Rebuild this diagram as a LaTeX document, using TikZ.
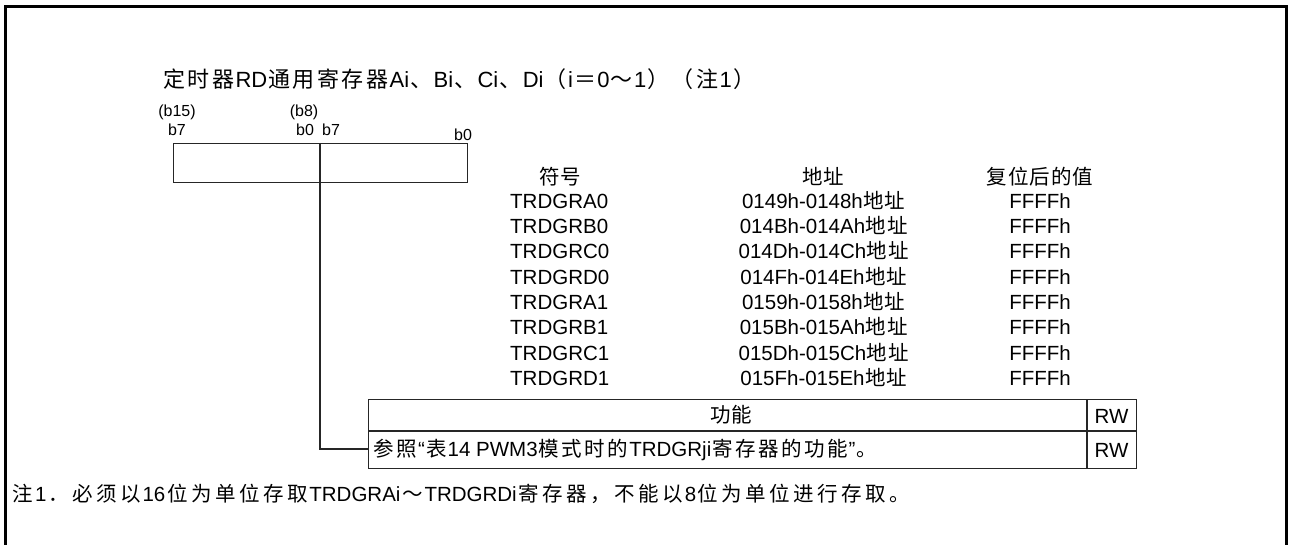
\documentclass[tikz,border=0pt]{standalone}
\usepackage{fontspec}
\setmainfont{Liberation Sans}
\newfontfamily\cjk{Noto Sans CJK SC}
\newlength\zhsp
\setlength\zhsp{1pt}
\def\zh#1{{\cjk\zhloop#1\relax}}
\def\zhloop#1{\ifx#1\relax\else\kern.5\zhsp#1\kern.5\zhsp\expandafter\zhloop\fi}
\begin{document}
\begin{tikzpicture}[x=1pt,y=-1pt,
  txt/.style={inner sep=0pt, font=\fontsize{20.5}{24}\selectfont},
  ttl/.style={inner sep=0pt, font=\fontsize{22}{26}\selectfont\setlength\zhsp{2.45pt}},
  bit/.style={inner sep=0pt, font=\fontsize{16}{18}\selectfont},
  frame/.style={line width=3pt},
  box/.style={line width=1.3pt, draw=black!85}]
\useasboundingbox (0,0) rectangle (1291,545);
% outer frame (open at bottom)
\draw[frame] (5.5,545) -- (5.5,7) -- (1286,7) -- (1286,545);

% title
\node[ttl, anchor=base west] (title) at (162,87.5)
  {\zh{定时器}RD\zh{通用寄存器}Ai\zh{、}Bi\zh{、}Ci\zh{、}Di\zh{（}i\zh{＝}0\zh{～}1\zh{）（注}1\zh{）}};

% bit labels
\node[bit, anchor=base] (b15) at (177,117) {(b15)};
\node[bit, anchor=base] (b7a) at (177,135.5) {b7};
\node[bit, anchor=base] (b8) at (304,117) {(b8)};
\node[bit, anchor=base] (b0a) at (305,135.5) {b0};
\node[bit, anchor=base] (b7b) at (331,135.5) {b7};
\node[bit, anchor=base] (b0b) at (463,141) {b0};

% register box
\node[box, draw, minimum width=294pt, minimum height=39pt, inner sep=0pt, anchor=north west] (reg) at (173,143) {};
\coordinate (divtop) at (320,143);
\coordinate (divbot) at (320,182);
\draw[box] (divtop) -- (divbot);

% header row
\node[txt, anchor=base] (hsym) at (560,184.5) {\zh{符号}};
\node[txt, anchor=base] (haddr) at (823,184.5) {\zh{地址}};
\node[txt, anchor=base] (hrst) at (1040,184.5) {\zh{复位后的值}};

% register rows
\foreach \n/\a/\b [count=\k from 0] in {
  TRDGRA0/0149h-0148h/FFFFh,
  TRDGRB0/014Bh-014Ah/FFFFh,
  TRDGRC0/014Dh-014Ch/FFFFh,
  TRDGRD0/014Fh-014Eh/FFFFh,
  TRDGRA1/0159h-0158h/FFFFh,
  TRDGRB1/015Bh-015Ah/FFFFh,
  TRDGRC1/015Dh-015Ch/FFFFh,
  TRDGRD1/015Fh-015Eh/FFFFh}{
  \node[txt, anchor=base west] (sym\k) at (510,208.3+25.3*\k) {\n};
  \node[txt, anchor=base] (addr\k) at (824,208.3+25.3*\k) {\a\zh{地址}};
  \node[txt, anchor=base] (rst\k) at (1040,208.3+25.3*\k) {\b};
}

% function table
\node[box, draw, minimum width=768pt, minimum height=69pt, inner sep=0pt, anchor=north west] (tab) at (368,399) {};
\coordinate (midL) at (368,431);
\coordinate (midR) at (1136,431);
\coordinate (rwT) at (1087,399);
\coordinate (rwB) at (1087,468);
\draw[box] (midL) -- (midR);
\draw[box] (rwT) -- (rwB);
\node[txt, anchor=base] (func) at (731,422) {\zh{功能}};
\node[txt, anchor=base] (rw1) at (1111.5,423) {RW};
\node[txt, anchor=base west, font=\fontsize{20.5}{24}\selectfont\setlength\zhsp{2.4pt}] (ref) at (372,456.5)
  {\zh{参照}“\zh{表}14 PWM3\zh{模式时的}TRDGRji\zh{寄存器的功能}”\zh{。}};
\node[txt, anchor=base] (rw2) at (1111.5,457) {RW};

% connector from register to table row
\coordinate (bend) at (320,449);
\coordinate (rowL) at (368,449);
\draw[box] (divbot) -- (bend) -- (rowL);

% note
\node[txt, anchor=base west, font=\fontsize{20.5}{24}\selectfont\setlength\zhsp{3.5pt}] (note) at (11,501)
  {\zh{注}1\zh{．必须以}16\zh{位为单位存取}TRDGRAi\zh{～}TRDGRDi\zh{寄存器，不能以}8\zh{位为单位进行存取。}};
\end{tikzpicture}
\end{document}
